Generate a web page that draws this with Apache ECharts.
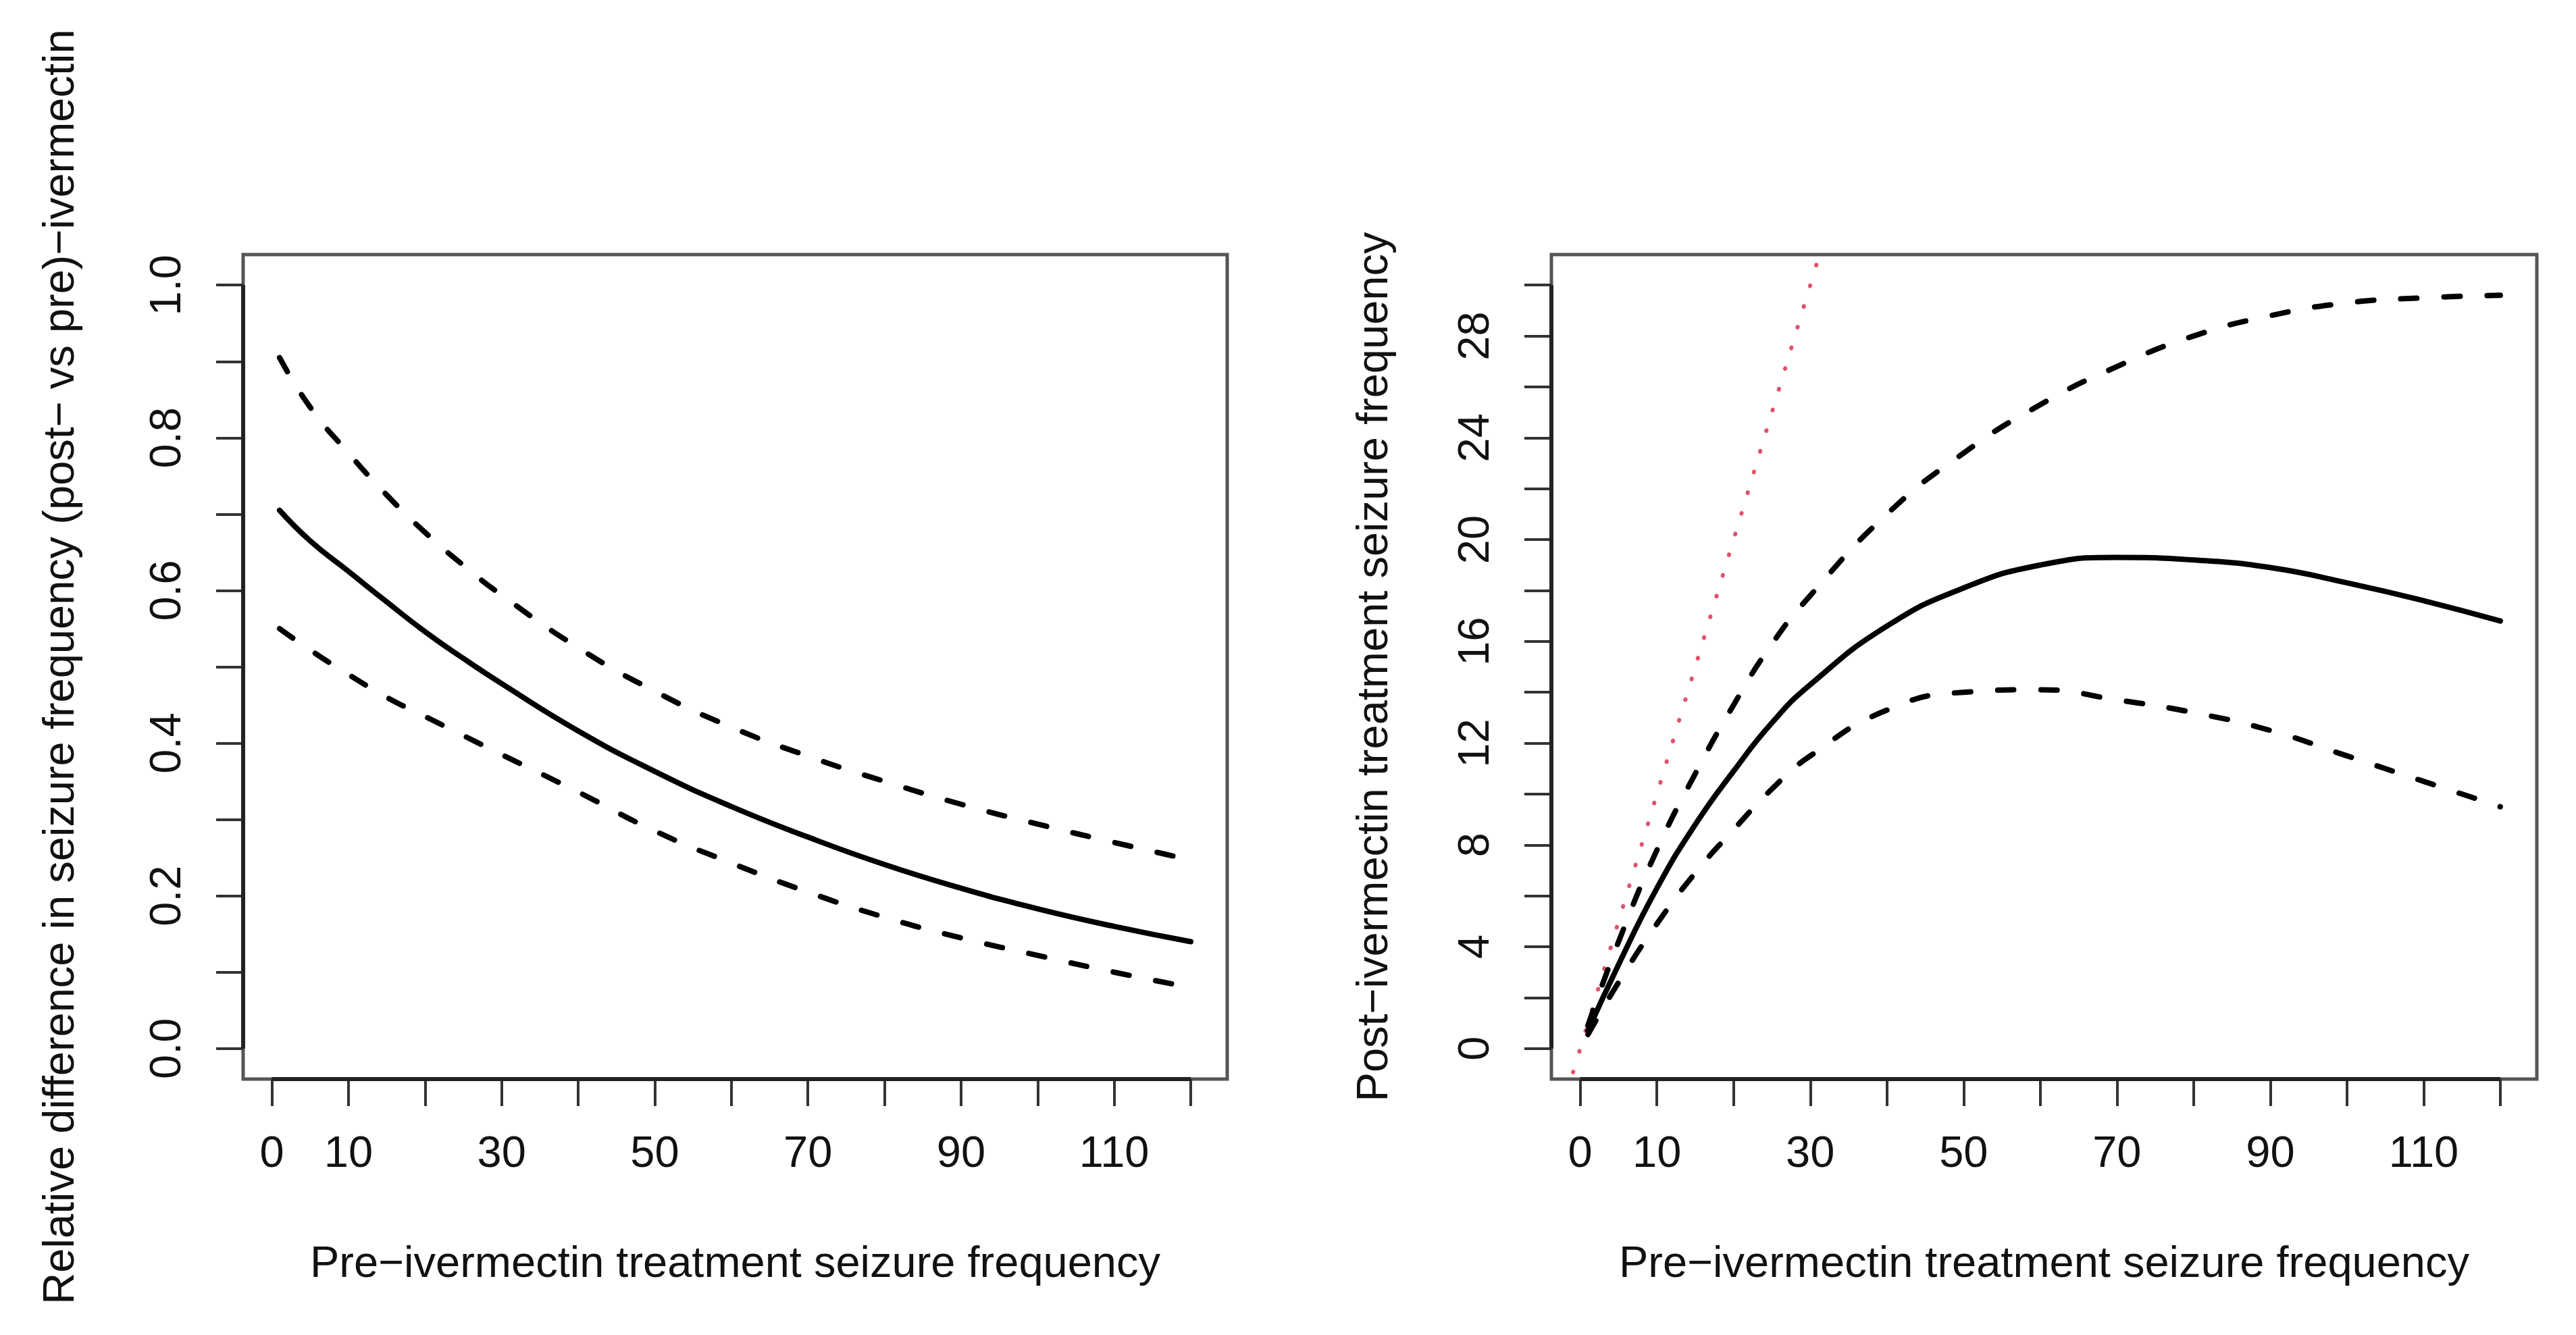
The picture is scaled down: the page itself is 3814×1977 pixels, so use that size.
<!DOCTYPE html>
<html>
<head>
<meta charset="utf-8">
<script src="https://cdn.jsdelivr.net/npm/echarts@6/dist/echarts.min.js"></script>
<style>
html,body{margin:0;padding:0;background:#fff;}
#chart{width:3814px;height:1977px;}
</style>
</head>
<body>
<div id="chart"></div>
<script>
// ---- data ----
const xPre = [1, 5, 10, 15, 20, 25, 30, 40, 50, 60, 70, 80, 90, 100, 110, 120];

// left panel: relative difference (post vs pre)
const relEst   = [0.705, 0.665, 0.625, 0.585, 0.546, 0.511, 0.478, 0.416, 0.363, 0.317, 0.277, 0.241, 0.210, 0.183, 0.160, 0.140];
const relUpper = [0.905, 0.840, 0.780, 0.725, 0.676, 0.633, 0.594, 0.525, 0.468, 0.421, 0.383, 0.350, 0.320, 0.294, 0.270, 0.247];
const relLower = [0.550, 0.522, 0.490, 0.460, 0.435, 0.410, 0.385, 0.336, 0.285, 0.243, 0.205, 0.172, 0.145, 0.122, 0.100, 0.080];

// right panel: post-treatment seizure frequency
const postEst   = [0.70, 3.30, 6.30, 8.80, 10.9, 12.8, 14.3, 16.6, 18.1, 19.0, 19.3, 19.2, 18.9, 18.3, 17.6, 16.8];
const postUpper = [0.90, 4.20, 7.80, 10.8, 13.5, 15.9, 17.8, 21.0, 23.4, 25.3, 26.8, 28.0, 28.8, 29.3, 29.5, 29.6];
const postLower = [0.55, 2.60, 4.90, 6.90, 8.6, 10.2, 11.5, 13.3, 14.0, 14.1, 13.7, 13.2, 12.5, 11.5, 10.5, 9.5];

// identity reference line (post = pre)
const identityLine = [[-5, -5], [40, 40]];

// axis ticks / labels
const xTicks = [0, 10, 20, 30, 40, 50, 60, 70, 80, 90, 100, 110, 120];
const xLabels = [0, 10, 30, 50, 70, 90, 110];
const yTicksL = [0, 0.1, 0.2, 0.3, 0.4, 0.5, 0.6, 0.7, 0.8, 0.9, 1.0];
const yLabelsL = [0, 0.2, 0.4, 0.6, 0.8, 1.0];
const yTicksR = [0, 2, 4, 6, 8, 10, 12, 14, 16, 18, 20, 22, 24, 26, 28, 30];
const yLabelsR = [0, 4, 8, 12, 16, 20, 24, 28];

const xTitle = 'Pre\u2212ivermectin treatment seizure frequency';
const yTitleL = 'Relative difference in seizure frequency (post\u2212 vs pre)\u2212ivermectin';
const yTitleR = 'Post\u2212ivermectin treatment seizure frequency';

// ---- helpers ----
const FONT = '"Liberation Sans", Arial, Helvetica, sans-serif';
const FS = 65;
function ext(lo, hi) { const d = (hi - lo) * 0.04; return [lo - d, hi + d]; }
const xR = ext(1, 120);
const yRL = ext(0, 1);
const yRR = ext(0, 30);
const zip = (xs, ys) => xs.map((x, i) => [x, ys[i]]);

function xAxisDef(idx) {
  return {
    type: 'value', gridIndex: idx, min: xR[0], max: xR[1],
    axisLine: { show: false, onZero: false },
    splitLine: { show: false },
    axisTick: { show: true, length: 40, customValues: xTicks, lineStyle: { color: '#333', width: 4 } },
    axisLabel: { show: true, customValues: xLabels, margin: 80, fontSize: FS, fontFamily: FONT, color: '#111' },
    name: xTitle, nameLocation: 'middle', nameGap: 243,
    nameTextStyle: { fontSize: FS, fontFamily: FONT, color: '#111' }
  };
}
function yAxisDef(idx, r, ticks, labels, fmt, title, gap) {
  return {
    type: 'value', gridIndex: idx, min: r[0], max: r[1],
    axisLine: { show: false, onZero: false },
    splitLine: { show: false },
    axisTick: { show: true, length: 40, customValues: ticks, lineStyle: { color: '#333', width: 4 } },
    axisLabel: { show: true, customValues: labels, rotate: 90, margin: 78, fontSize: FS, fontFamily: FONT, color: '#111', formatter: fmt },
    name: title, nameLocation: 'middle', nameGap: gap, nameRotate: 90,
    nameTextStyle: { fontSize: FS, fontFamily: FONT, color: '#111' }
  };
}
function curve(idx, data, dashed) {
  return {
    type: 'line', xAxisIndex: idx, yAxisIndex: idx, data: data,
    smooth: 0.5, symbol: 'none', silent: true, z: 5,
    lineStyle: { color: '#000', width: 8, type: dashed ? [24, 40] : 'solid', cap: 'round', join: 'round' }
  };
}
function axisSeg(idx, data) {
  return {
    type: 'line', xAxisIndex: idx, yAxisIndex: idx, data: data, clip: false,
    symbol: 'none', silent: true, z: 6,
    lineStyle: { color: '#222', width: 6, cap: 'butt' }
  };
}

const chart = echarts.init(document.getElementById('chart'), null, { renderer: 'canvas', width: 3814, height: 1977 });
const gridStyle = { show: true, borderColor: '#555', borderWidth: 5, backgroundColor: '#fff' };

chart.setOption({
  animation: false,
  backgroundColor: '#ffffff',
  grid: [
    Object.assign({ left: 360, top: 377, width: 1457, height: 1221 }, gridStyle),
    Object.assign({ left: 2297, top: 377, width: 1459, height: 1221 }, gridStyle)
  ],
  xAxis: [xAxisDef(0), xAxisDef(1)],
  yAxis: [
    yAxisDef(0, yRL, yTicksL, yLabelsL, v => v.toFixed(1), yTitleL, 236),
    yAxisDef(1, yRR, yTicksR, yLabelsR, v => String(v), yTitleR, 228)
  ],
  series: [
    curve(0, zip(xPre, relUpper), true),
    curve(0, zip(xPre, relEst), false),
    curve(0, zip(xPre, relLower), true),
    {
      type: 'line', xAxisIndex: 1, yAxisIndex: 1, data: identityLine, clip: true,
      symbol: 'none', silent: true, z: 4,
      lineStyle: { color: '#DF536B', width: 6, type: [1, 31], cap: 'round' }
    },
    curve(1, zip(xPre, postUpper), true),
    curve(1, zip(xPre, postEst), false),
    curve(1, zip(xPre, postLower), true),
    axisSeg(0, [[xTicks[0], yRL[0]], [xTicks[xTicks.length - 1], yRL[0]]]),
    axisSeg(0, [[xR[0], yTicksL[0]], [xR[0], yTicksL[yTicksL.length - 1]]]),
    axisSeg(1, [[xTicks[0], yRR[0]], [xTicks[xTicks.length - 1], yRR[0]]]),
    axisSeg(1, [[xR[0], yTicksR[0]], [xR[0], yTicksR[yTicksR.length - 1]]])
  ]
});
</script>
</body>
</html>
